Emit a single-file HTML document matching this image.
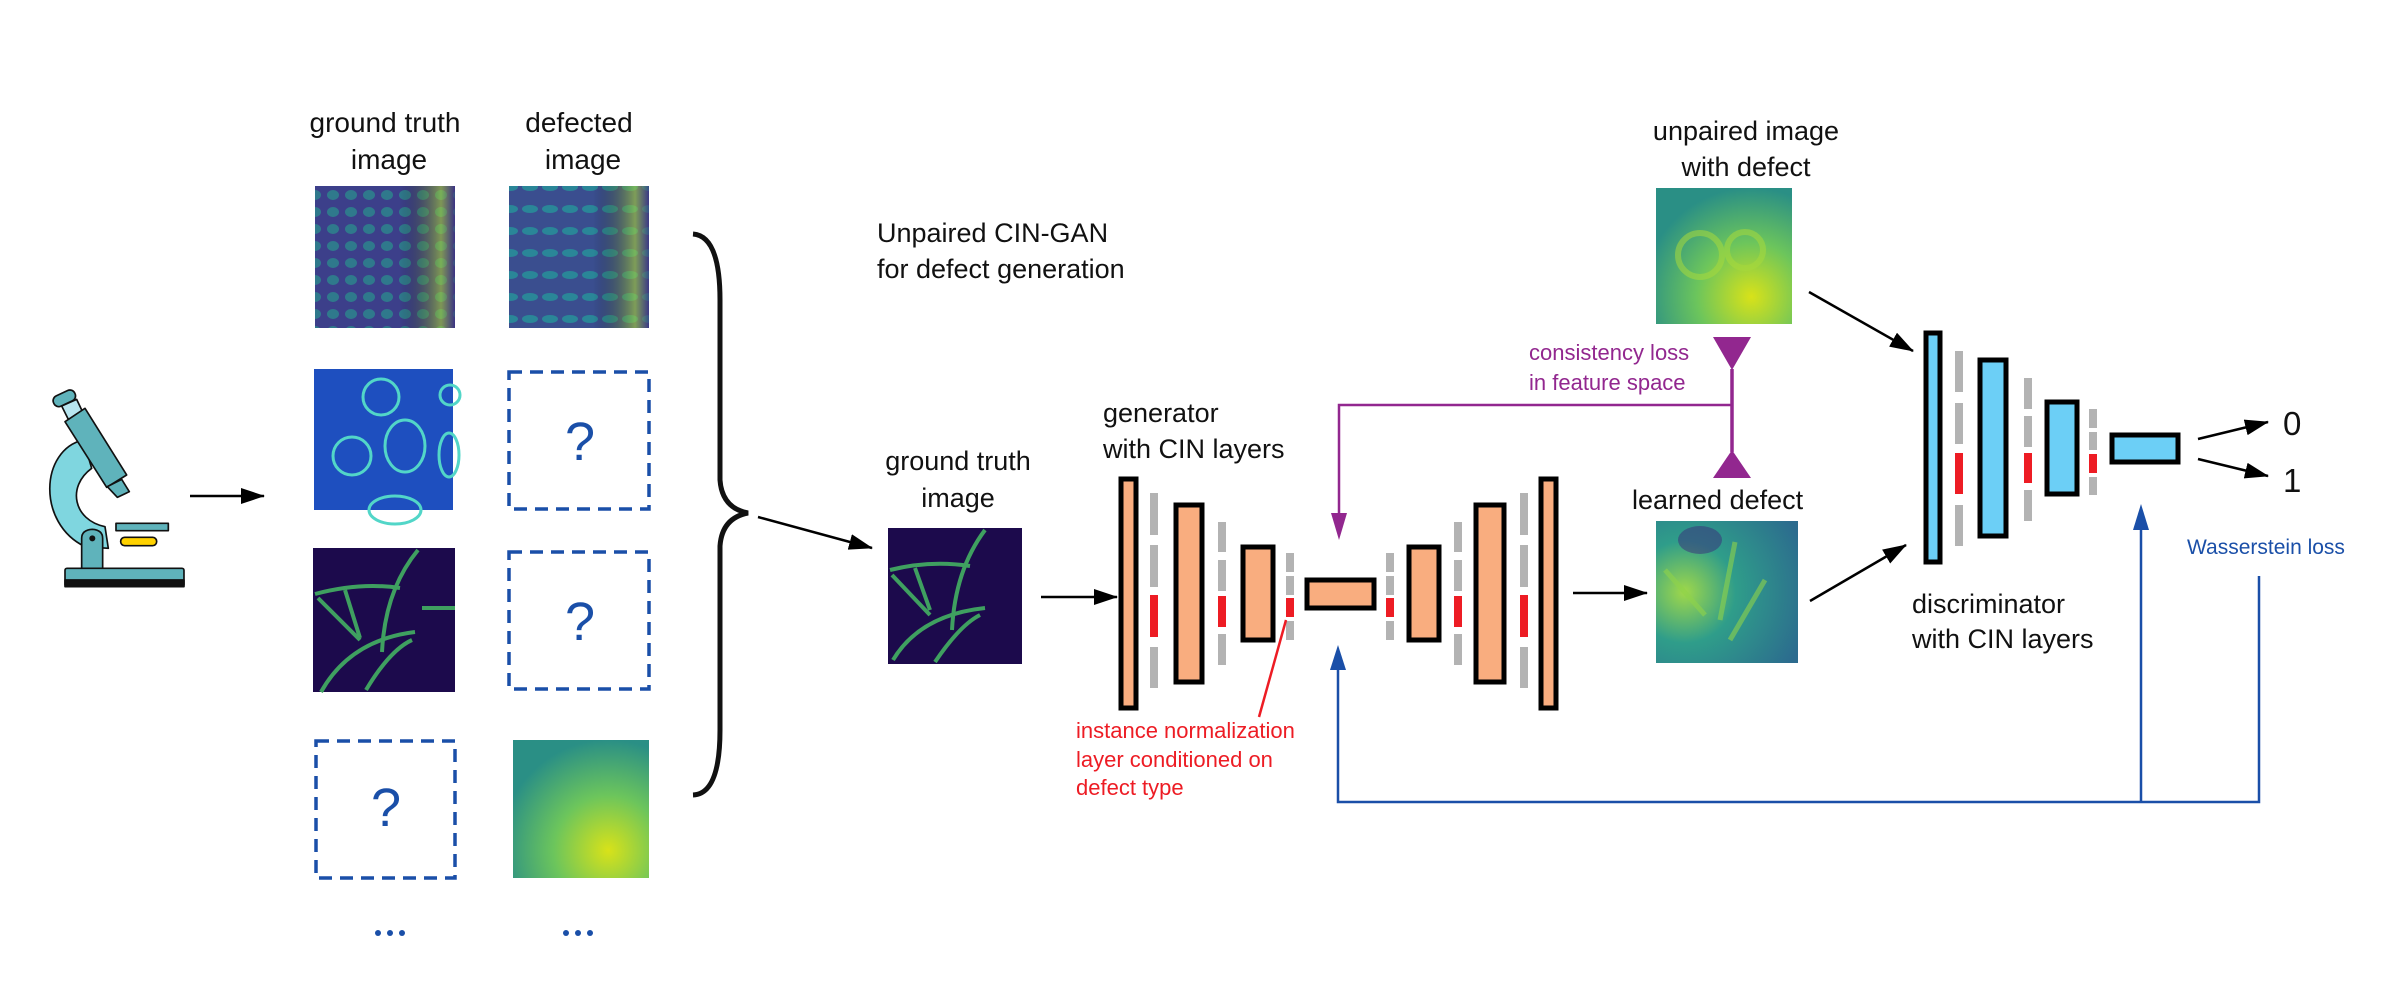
<!DOCTYPE html>
<html><head><meta charset="utf-8"><style>
html,body{margin:0;padding:0;background:#fff;}
svg{display:block;font-family:"Liberation Sans",sans-serif;}
</style></head><body>
<svg width="2400" height="1000" viewBox="0 0 2400 1000" xmlns="http://www.w3.org/2000/svg">
<defs>
<marker id="akb" markerWidth="24" markerHeight="16" refX="23" refY="8" orient="auto" markerUnits="userSpaceOnUse"><path d="M0,0 L24,8 L0,16 Z" fill="#000"/></marker>
<pattern id="dots" width="18" height="17" patternUnits="userSpaceOnUse"><ellipse cx="9" cy="8" rx="6" ry="5" fill="#2a8c8c" opacity="0.75"/></pattern>
<pattern id="dots2" width="20" height="22" patternUnits="userSpaceOnUse"><ellipse cx="10" cy="11" rx="8" ry="4" fill="#25949a" opacity="0.8"/></pattern>
<linearGradient id="rg" x1="0" x2="1"><stop offset="0.6" stop-color="#000" stop-opacity="0"/><stop offset="0.9" stop-color="#b5de2b" stop-opacity="0.55"/><stop offset="1" stop-color="#3b2a80" stop-opacity="0.6"/></linearGradient>
<radialGradient id="gy" cx="0.7" cy="0.8" r="0.8"><stop offset="0" stop-color="#d8e219"/><stop offset="0.5" stop-color="#6cc55c"/><stop offset="1" stop-color="#2a8f85"/></radialGradient>
<radialGradient id="gl" cx="0.2" cy="0.5" r="0.9"><stop offset="0" stop-color="#9fd84a"/><stop offset="0.4" stop-color="#2f9d8a"/><stop offset="1" stop-color="#2c6b8e"/></radialGradient>
</defs>

<!-- microscope -->
<g transform="translate(30,380) scale(0.3333)" stroke="#111" stroke-width="5" stroke-linejoin="round">
<path d="M160,180 C30,210 20,430 165,500 L235,505 L225,440 C130,420 110,320 185,265 Z" fill="#7fd6df"/>
<polygon points="95,78 140,58 160,100 115,118" fill="#b8e6f0"/>
<rect x="68" y="38" width="70" height="34" rx="16" fill="#5fb3bb" transform="rotate(-25 103 55)"/>
<polygon points="105,125 165,85 290,285 230,322" fill="#5fb3bb"/>
<polygon points="232,320 275,298 298,335 262,352" fill="#5fb3bb"/>
<rect x="258" y="430" width="157" height="22" fill="#5fb3bb"/>
<rect x="272" y="472" width="108" height="25" rx="12" fill="#ffd200"/>
<path d="M155,570 L155,475 Q155,450 187,448 Q218,450 218,475 L218,570 Z" fill="#5fb3bb"/>
<circle cx="187" cy="475" r="9" fill="#111" stroke="none"/>
<rect x="105" y="565" width="357" height="55" rx="6" fill="#5fb3bb"/>
<rect x="105" y="600" width="357" height="20" fill="#111"/>
</g>
<line x1="190" y1="496" x2="264" y2="496" stroke="#000" stroke-width="2.5" marker-end="url(#akb)"/>

<g font-size="28" fill="#111" text-anchor="middle">
<text x="385" y="132">ground truth</text><text x="389" y="169">image</text>
<text x="579" y="132">defected</text><text x="583" y="169">image</text>
</g>

<rect x="315" y="186" width="140" height="142" fill="#3c3f8a"/>
<rect x="315" y="186" width="140" height="142" fill="url(#dots)"/>
<rect x="315" y="186" width="140" height="142" fill="url(#rg)"/>
<rect x="509" y="186" width="140" height="142" fill="#3a4e8f"/>
<rect x="509" y="186" width="140" height="142" fill="url(#dots2)"/>
<rect x="509" y="186" width="140" height="142" fill="url(#rg)"/>
<rect x="314" y="369" width="139" height="141" fill="#1e4fbf"/>
<g fill="none" stroke="#52d6c8" stroke-width="3">
<circle cx="381" cy="397" r="18"/><circle cx="352" cy="456" r="19"/><ellipse cx="405" cy="446" rx="20" ry="26"/><ellipse cx="449" cy="455" rx="10" ry="22"/><ellipse cx="395" cy="510" rx="26" ry="14"/><circle cx="450" cy="395" r="10"/>
</g>
<rect x="313" y="548" width="142" height="144" fill="#1c0a4c"/>
<g fill="none" stroke="#3fa060" stroke-width="4">
<path d="M315,594 Q360,582 400,588"/><path d="M345,590 L360,638"/><path d="M318,598 L360,640"/><path d="M418,550 Q385,590 382,652"/><path d="M321,692 Q350,640 415,632"/><path d="M366,690 Q390,650 412,640"/><path d="M422,608 L455,608"/>
</g>
<rect x="509" y="372" width="140" height="137" fill="none" stroke="#1a4fa8" stroke-width="3.5" stroke-dasharray="13,8"/>
<rect x="509" y="552" width="140" height="137" fill="none" stroke="#1a4fa8" stroke-width="3.5" stroke-dasharray="13,8"/>
<rect x="316" y="741" width="139" height="137" fill="none" stroke="#1a4fa8" stroke-width="3.5" stroke-dasharray="13,8"/>
<g font-size="54" fill="#1a4fa8" text-anchor="middle">
<text x="580" y="460">?</text><text x="580" y="640">?</text><text x="386" y="826">?</text>
</g>
<rect x="513" y="740" width="136" height="138" fill="url(#gy)"/>
<g fill="#1a4fa8"><circle cx="378" cy="933" r="3"/><circle cx="390" cy="933" r="3"/><circle cx="402" cy="933" r="3"/><circle cx="566" cy="933" r="3"/><circle cx="578" cy="933" r="3"/><circle cx="590" cy="933" r="3"/></g>

<path d="M693,234 Q720,236 720,300 L720,480 Q722,508 748,513 Q722,518 720,546 L720,730 Q720,794 693,795" fill="none" stroke="#111" stroke-width="5"/>
<line x1="758" y1="517" x2="872" y2="548" stroke="#000" stroke-width="2.5" marker-end="url(#akb)"/>

<g font-size="27" fill="#111">
<text x="877" y="242">Unpaired CIN-GAN</text><text x="877" y="278">for defect generation</text>
<text x="958" y="470" text-anchor="middle">ground truth</text><text x="958" y="507" text-anchor="middle">image</text>
<text x="1103" y="422">generator</text><text x="1103" y="458">with CIN layers</text>
<text x="1746" y="140" text-anchor="middle">unpaired image</text><text x="1746" y="176" text-anchor="middle">with defect</text>
<text x="1632" y="509">learned defect</text>
<text x="1912" y="613">discriminator</text><text x="1912" y="648">with CIN layers</text>
</g>
<g font-size="33" fill="#111"><text x="2283" y="435">0</text><text x="2283" y="492">1</text></g>

<rect x="888" y="528" width="134" height="136" fill="#1c0a4c"/>
<g fill="none" stroke="#3fa060" stroke-width="4">
<path d="M890,570 Q930,560 970,566"/><path d="M915,568 L930,610"/><path d="M892,575 L930,615"/><path d="M985,530 Q955,570 952,630"/><path d="M893,660 Q920,615 985,608"/><path d="M935,662 Q960,625 980,615"/>
</g>
<line x1="1041" y1="597" x2="1117" y2="597" stroke="#000" stroke-width="2.5" marker-end="url(#akb)"/>

<g stroke="#000" stroke-width="5" fill="#f9ad7f">
<rect x="1121" y="479" width="15" height="229"/>
<rect x="1176" y="505" width="26" height="177"/>
<rect x="1243" y="547" width="30" height="93"/>
<rect x="1307" y="580" width="67" height="28"/>
<rect x="1409" y="547" width="30" height="93"/>
<rect x="1476" y="505" width="28" height="177"/>
<rect x="1541" y="479" width="15" height="229"/>
</g>
<g fill="#b3b3b3">
<rect x="1150" y="493" width="8" height="42"/><rect x="1150" y="545" width="8" height="42"/><rect x="1150" y="647" width="8" height="41"/>
<rect x="1520" y="493" width="8" height="42"/><rect x="1520" y="545" width="8" height="42"/><rect x="1520" y="647" width="8" height="41"/>
<rect x="1218" y="522" width="8" height="30"/><rect x="1218" y="560" width="8" height="31"/><rect x="1218" y="634" width="8" height="31"/>
<rect x="1454" y="522" width="8" height="30"/><rect x="1454" y="560" width="8" height="31"/><rect x="1454" y="634" width="8" height="31"/>
<rect x="1286" y="553" width="8" height="19"/><rect x="1286" y="576" width="8" height="19"/><rect x="1286" y="621" width="8" height="19"/>
<rect x="1386" y="553" width="8" height="19"/><rect x="1386" y="576" width="8" height="19"/><rect x="1386" y="621" width="8" height="19"/>
</g>
<g fill="#ed1c24">
<rect x="1150" y="595" width="8" height="42"/><rect x="1520" y="595" width="8" height="42"/>
<rect x="1218" y="596" width="8" height="31"/><rect x="1454" y="596" width="8" height="31"/>
<rect x="1286" y="598" width="8" height="19"/><rect x="1386" y="598" width="8" height="19"/>
</g>
<line x1="1286" y1="620" x2="1259" y2="717" stroke="#ed1c24" stroke-width="2.5"/>
<g font-size="22" fill="#ed1c24"><text x="1076" y="738">instance normalization</text><text x="1076" y="767">layer conditioned on</text><text x="1076" y="795">defect type</text></g>
<line x1="1573" y1="593" x2="1647" y2="593" stroke="#000" stroke-width="2.5" marker-end="url(#akb)"/>

<rect x="1656" y="521" width="142" height="142" fill="url(#gl)"/>
<g stroke="#8fd34a" stroke-width="5" opacity="0.6" fill="none"><path d="M1665,570 L1705,615"/><path d="M1735,542 L1720,620"/><path d="M1730,640 L1765,580"/></g>
<ellipse cx="1700" cy="540" rx="22" ry="14" fill="#3a2a7a" opacity="0.5"/>
<rect x="1656" y="188" width="136" height="136" fill="url(#gy)"/>
<g fill="none" stroke="#a8da3c" stroke-width="6" opacity="0.55"><circle cx="1700" cy="255" r="22"/><circle cx="1745" cy="250" r="18"/></g>

<g font-size="22" fill="#92278f"><text x="1529" y="360">consistency loss</text><text x="1529" y="390">in feature space</text></g>
<polyline points="1733,405 1339,405 1339,525" fill="none" stroke="#92278f" stroke-width="2.5"/>
<polygon points="1331,513 1347,513 1339,540" fill="#92278f"/>
<line x1="1732" y1="369" x2="1732" y2="452" stroke="#92278f" stroke-width="3.5"/>
<polygon points="1713,337 1751,337 1732,370" fill="#92278f"/>
<polygon points="1713,478 1751,478 1732,450" fill="#92278f"/>

<line x1="1809" y1="292" x2="1913" y2="351" stroke="#000" stroke-width="2.5" marker-end="url(#akb)"/>
<line x1="1810" y1="601" x2="1906" y2="545" stroke="#000" stroke-width="2.5" marker-end="url(#akb)"/>

<g stroke="#000" stroke-width="5" fill="#6ccff6">
<rect x="1926" y="333" width="14" height="229"/>
<rect x="1980" y="360" width="26" height="176"/>
<rect x="2047" y="402" width="30" height="92"/>
<rect x="2112" y="435" width="66" height="27"/>
</g>
<g fill="#b3b3b3">
<rect x="1955" y="351" width="8" height="41"/><rect x="1955" y="403" width="8" height="41"/><rect x="1955" y="505" width="8" height="41"/>
<rect x="2024" y="378" width="8" height="31"/><rect x="2024" y="416" width="8" height="31"/><rect x="2024" y="490" width="8" height="31"/>
<rect x="2089" y="409" width="8" height="19"/><rect x="2089" y="432" width="8" height="18"/><rect x="2089" y="477" width="8" height="18"/>
</g>
<g fill="#ed1c24"><rect x="1955" y="453" width="8" height="41"/><rect x="2024" y="453" width="8" height="30"/><rect x="2089" y="454" width="8" height="19"/></g>
<line x1="2198" y1="439" x2="2268" y2="422" stroke="#000" stroke-width="2.5" marker-end="url(#akb)"/>
<line x1="2198" y1="459" x2="2268" y2="476" stroke="#000" stroke-width="2.5" marker-end="url(#akb)"/>

<text x="2187" y="554" font-size="21" fill="#1a4fa8">Wasserstein loss</text>
<polyline points="2259,576 2259,802 1338,802 1338,668" fill="none" stroke="#1a4fa8" stroke-width="2.5"/>
<polygon points="1330,670 1346,670 1338,645" fill="#1a4fa8"/>
<line x1="2141" y1="802" x2="2141" y2="528" stroke="#1a4fa8" stroke-width="2.5"/>
<polygon points="2133,530 2149,530 2141,504" fill="#1a4fa8"/>
</svg>
</body></html>
